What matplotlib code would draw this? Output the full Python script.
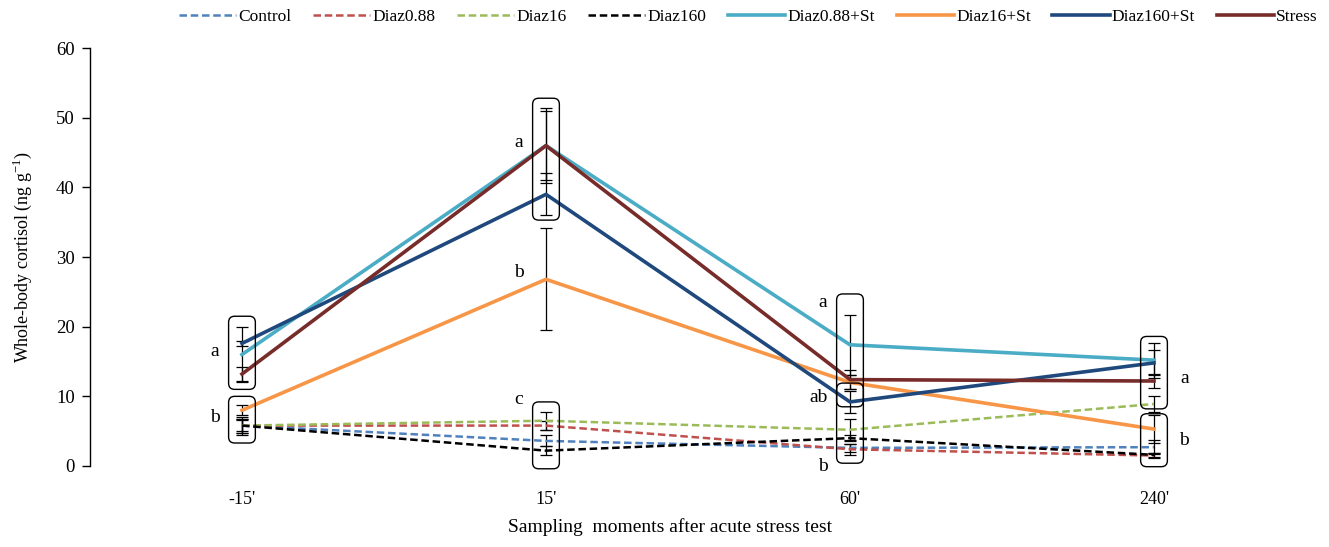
import matplotlib
matplotlib.use("Agg")
import matplotlib.pyplot as plt
from matplotlib.patches import FancyBboxPatch

plt.rcParams['font.family'] = ['Liberation Serif', 'DejaVu Serif']

# sampling moments
times = ["-15'", "15'", "60'", "240'"]

# group means (ng g-1)
control = [5.8, 3.6, 2.6, 2.7]
diaz088 = [5.8, 5.8, 2.4, 1.5]
diaz16 = [5.8, 6.5, 5.2, 8.9]
diaz160 = [5.8, 2.2, 4.0, 1.6]
diaz088_st = [16.0, 46.0, 17.4, 15.2]
diaz16_st = [8.0, 26.8, 12.0, 5.3]
diaz160_st = [17.6, 39.0, 9.2, 14.8]
stress = [13.2, 46.0, 12.4, 12.2]

# standard errors
control_err = [1.3, 0.8, 0.6, 1.0]
diaz088_err = [1.0, 0.6, 0.8, 0.3]
diaz16_err = [0.8, 1.3, 1.5, 1.1]
diaz160_err = [1.0, 0.6, 0.4, 0.3]
diaz088_st_err = [4.0, 5.4, 4.3, 2.5]
diaz16_st_err = [0.7, 7.3, 1.0, 2.0]
diaz160_st_err = [0.4, 3.0, 1.6, 1.8]
stress_err = [1.0, 5.0, 1.4, 1.0]

# significance letters: (time index, letter, y)
letters = [(0, "a", 16.4), (0, "b", 7.0),
           (1, "a", 46.5), (1, "b", 27.8), (1, "c", 9.5),
           (2, "a", 23.5), (2, "ab", 9.9), (2, "b", -0.1),
           (3, "a", 12.6), (3, "b", 3.7)]
# bracket boxes: (time index, low, high)
boxes = [(0, 11.0, 21.5), (0, 3.3, 10.0),
         (1, 35.3, 52.8), (1, -0.4, 9.2),
         (2, 0.4, 24.7), (2, 8.5, 11.9),
         (3, 8.2, 18.6), (3, -0.1, 7.5)]

series = [
    ("Control", control, control_err, "#4f81bd", "--"),
    ("Diaz0.88", diaz088, diaz088_err, "#c0504d", "--"),
    ("Diaz16", diaz16, diaz16_err, "#9bbb59", "--"),
    ("Diaz160", diaz160, diaz160_err, "#000000", "--"),
    ("Diaz0.88+St", diaz088_st, diaz088_st_err, "#4bacc6", "-"),
    ("Diaz16+St", diaz16_st, diaz16_st_err, "#f79646", "-"),
    ("Diaz160+St", diaz160_st, diaz160_st_err, "#1f497d", "-"),
    ("Stress", stress, stress_err, "#772c2a", "-"),
]

fig = plt.figure(figsize=(13.29, 5.47), dpi=100)
ax = fig.add_axes([0.0677, 0.1481, 0.915, 0.764])

x = list(range(len(times)))
handles = []
for name, vals, errs, col, ls in series:
    lw = 1.8 if ls == "--" else 2.6
    ax.errorbar(x, vals, yerr=errs, fmt="none", ecolor="black",
                elinewidth=0.9, capsize=4, capthick=0.9, zorder=2)
    h, = ax.plot(x, vals, color=col, ls=ls, lw=lw, label=name, zorder=3,
                 dashes=(3, 1.5) if ls == "--" else (None, None))
    handles.append(h)

# rounded boxes around error bars
asp = (1 / 6.97) / (1 / 304)
for i, lo, hi in boxes:
    w = 0.088
    p = FancyBboxPatch((i - w / 2, lo), w, hi - lo,
                       boxstyle="round,pad=0,rounding_size=0.02",
                       mutation_aspect=asp, fc="none", ec="black",
                       lw=1.0, zorder=4, clip_on=False)
    ax.add_patch(p)

for i, lab, y in letters:
    dx = 0.1 if i == 3 else -0.09
    if lab == "ab":
        dx = -0.105
    ax.text(i + dx, y, lab, ha="center", va="center", fontsize=14)

ax.set_xlim(-0.5, 3.5)
ax.set_ylim(0, 60)
ax.set_yticks(range(0, 61, 10))
ax.set_xticks(x)
ax.set_xticklabels(times)
ax.tick_params(axis="x", length=0, pad=18, labelsize=13)
ax.tick_params(axis="y", length=6, width=1, pad=5, labelsize=13.5)
for s in ["top", "right", "bottom"]:
    ax.spines[s].set_visible(False)
ax.spines["left"].set_linewidth(1)

ax.set_ylabel("Whole-body cortisol (ng g$^{\\mathregular{-1}}$)", fontsize=13, labelpad=16)
fig.text(0.504, 0.02, "Sampling  moments after acute stress test",
         ha="center", va="bottom", fontsize=14)

fig.legend(handles=handles, loc="upper center", bbox_to_anchor=(0.563, 1.012),
           ncol=8, frameon=False, fontsize=12.5, handlelength=3.3,
           handletextpad=0.12, columnspacing=1.25)

fig.savefig("out.png", dpi=100)
